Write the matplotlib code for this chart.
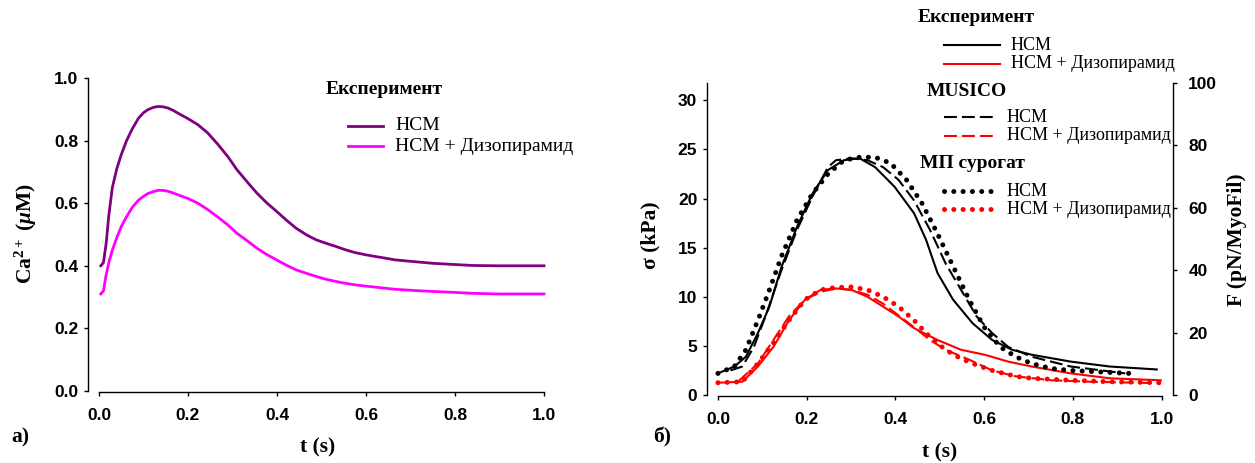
import numpy as np
import matplotlib
matplotlib.use("Agg")
import matplotlib.pyplot as plt
from matplotlib.lines import Line2D

plt.rcParams['font.family'] = ['Liberation Serif', 'DejaVu Serif']
plt.rcParams['mathtext.fontset'] = 'custom'
plt.rcParams['mathtext.rm'] = 'Liberation Serif:bold'
plt.rcParams['mathtext.bf'] = 'Liberation Serif:bold'
plt.rcParams['mathtext.it'] = 'Liberation Serif:italic:bold'

# --- panel a: Ca2+ transients ---
t_ca = [0.004, 0.01, 0.016, 0.022, 0.03, 0.04, 0.05, 0.062, 0.075, 0.089, 0.1, 0.11, 0.122,
        0.133, 0.144, 0.155, 0.166, 0.177, 0.2, 0.222, 0.244, 0.266, 0.29, 0.31, 0.333, 0.355,
        0.377, 0.399, 0.421, 0.443, 0.466, 0.488, 0.51, 0.532, 0.554, 0.576, 0.6, 0.62,
        0.645, 0.665, 0.71, 0.75, 0.8, 0.84, 0.9, 0.95, 1.0]
ca_hcm = [0.40, 0.41, 0.47, 0.56, 0.65, 0.71, 0.755, 0.80, 0.838, 0.872, 0.889, 0.899, 0.906,
          0.909, 0.908, 0.904, 0.897, 0.888, 0.87, 0.851, 0.825, 0.79, 0.748, 0.707, 0.668, 0.632,
          0.601, 0.574, 0.546, 0.52, 0.499, 0.483, 0.472, 0.462, 0.451, 0.442, 0.435, 0.43,
          0.424, 0.419, 0.413, 0.408, 0.404, 0.401, 0.40, 0.40, 0.40]
ca_diso = [0.31, 0.32, 0.37, 0.41, 0.45, 0.49, 0.525, 0.557, 0.587, 0.61, 0.622, 0.631, 0.637,
           0.641, 0.641, 0.638, 0.633, 0.627, 0.615, 0.60, 0.58, 0.557, 0.53, 0.504, 0.48, 0.456,
           0.436, 0.419, 0.402, 0.387, 0.376, 0.366, 0.357, 0.35, 0.344, 0.339, 0.335, 0.332,
           0.328, 0.325, 0.321, 0.318, 0.315, 0.312, 0.31, 0.31, 0.31]

# --- panel b: tension, experiment / MUSICO / surrogate ---
t_exp = [0.0, 0.037, 0.063, 0.09, 0.116, 0.143, 0.178, 0.213, 0.248, 0.284, 0.319, 0.354,
         0.398, 0.442, 0.469, 0.495, 0.53, 0.574, 0.618, 0.663, 0.707, 0.795, 0.883, 0.989]
exp_hcm = [2.2, 2.9, 3.9, 6.3, 9.0, 13.0, 17.1, 20.5, 22.9, 23.9, 24.1, 23.2,
           21.2, 18.5, 15.8, 12.4, 9.7, 7.3, 5.6, 4.6, 4.1, 3.4, 2.9, 2.6]

t_exp_d = [0.0, 0.055, 0.09, 0.125, 0.16, 0.196, 0.231, 0.266, 0.301, 0.337, 0.372, 0.407,
           0.442, 0.495, 0.548, 0.601, 0.654, 0.707, 0.795, 0.883, 0.998]
exp_diso = [1.25, 1.35, 2.9, 4.9, 7.6, 9.7, 10.7, 10.85, 10.7, 10.0, 9.0, 8.0,
            6.8, 5.6, 4.6, 4.1, 3.4, 2.9, 2.2, 1.7, 1.5]

t_mus = [0.028, 0.055, 0.081, 0.107, 0.143, 0.178, 0.213, 0.248, 0.266, 0.301, 0.337,
         0.372, 0.407, 0.442, 0.478, 0.513, 0.548, 0.583, 0.618, 0.654, 0.707, 0.795,
         0.883, 0.918]
mus_hcm = [2.5, 2.9, 4.9, 8.0, 12.7, 16.8, 20.2, 23.2, 23.9, 24.1, 23.9,
           23.2, 21.9, 19.8, 16.8, 13.4, 10.7, 8.0, 6.3, 4.9, 3.9, 2.9,
           2.4, 2.2]

t_mus_d = [0.046, 0.09, 0.125, 0.16, 0.196, 0.231, 0.266, 0.301, 0.337, 0.372, 0.407,
           0.442, 0.478, 0.513, 0.566, 0.618, 0.671, 0.751, 0.839, 0.998]
mus_diso = [1.4, 3.2, 5.6, 8.0, 9.7, 10.5, 10.85, 10.7, 10.2, 9.3, 8.1,
            6.9, 5.6, 4.6, 3.6, 2.5, 1.9, 1.5, 1.35, 1.2]

t_sur = [0.0, 0.037, 0.063, 0.09, 0.116, 0.143, 0.178, 0.213, 0.248, 0.284, 0.319, 0.354,
         0.389, 0.425, 0.46, 0.495, 0.53, 0.566, 0.6, 0.636, 0.671, 0.707, 0.751, 0.795,
         0.883, 0.927]
sur_hcm = [2.2, 2.9, 4.6, 7.6, 10.7, 14.1, 17.8, 20.5, 22.5, 23.9, 24.2, 24.2,
           23.6, 21.9, 19.5, 16.4, 13.1, 9.7, 6.9, 4.9, 3.9, 3.2, 2.7, 2.5,
           2.3, 2.2]

t_sur_d = [0.0, 0.055, 0.09, 0.125, 0.16, 0.196, 0.231, 0.266, 0.301, 0.337, 0.372, 0.407,
           0.442, 0.478, 0.513, 0.548, 0.583, 0.618, 0.671, 0.707, 0.795, 0.883, 1.0]
sur_diso = [1.25, 1.35, 3.2, 5.3, 7.6, 9.7, 10.7, 10.95, 11.0, 10.7, 10.0, 9.0,
            7.6, 5.9, 4.6, 3.7, 3.05, 2.5, 1.9, 1.7, 1.5, 1.35, 1.25]

lbl_hcm = 'НСМ'
lbl_diso = 'НСМ + Дизопирамид'

tick_font = dict(family='Liberation Sans', weight='bold', size=12.5)
lab_font = dict(family='Liberation Serif', weight='bold', size=15.5)
dot = (0, (0.01, 1.85))

fig = plt.figure(figsize=(12.55, 4.63), dpi=100)
W, H = 1255, 463


def px_axes(x0, x1, ytop, ybot):
    return fig.add_axes([x0 / W, 1 - ybot / H, (x1 - x0) / W, (ybot - ytop) / H])


def style(ax, xmin, xmax):
    ax.set_xlim(xmin, xmax)
    ax.spines['top'].set_visible(False)
    ax.spines['right'].set_visible(False)
    ax.spines['bottom'].set_bounds(0, 1.0)
    ax.spines['bottom'].set_position(('outward', 1))
    ax.set_xticks(np.arange(0, 1.01, 0.2))
    ax.set_xticklabels(['%.1f' % v for v in np.arange(0, 1.01, 0.2)], fontdict=tick_font)
    ax.tick_params(direction='out', length=3, width=1, pad=8)
    for s in ax.spines.values():
        s.set_linewidth(1.0)


# panel a
ax1 = px_axes(88, 546, 78, 391)
ax1.plot(t_ca, ca_hcm, color='#800080', lw=2.0)
ax1.plot(t_ca, ca_diso, color='#ff00ff', lw=2.0)
style(ax1, -0.0247, 1.0045)
ax1.set_ylim(0, 1.0)
ax1.set_yticks(np.arange(0, 1.01, 0.2))
ax1.set_yticklabels(['%.1f' % v for v in np.arange(0, 1.01, 0.2)], fontdict=tick_font)
ax1.tick_params(axis='y', pad=4)
fig.text(318 / W, 1 - 447 / H, 't (s)', ha='center', va='center', **lab_font)
fig.text(26 / W, 1 - 234 / H, r'Ca$^{2+}$ ($\mu$M)', rotation=90, ha='center',
         va='center', **lab_font)
fig.text(20 / W, 1 - 437 / H, 'а)', ha='center', va='center', **lab_font)

# legend of panel a
fig.text(384 / W, 1 - 90 / H, 'Експеримент', ha='center', va='center',
         weight='bold', size=14)
for y, c, lab in [(126, '#800080', lbl_hcm), (146, '#ff00ff', lbl_diso)]:
    fig.add_artist(Line2D([348 / W, 383 / W], [1 - y / H] * 2, color=c, lw=2.0))
    fig.text(395 / W, 1 - y / H, lab, ha='left', va='center', size=14)

# panel b
ax2 = px_axes(707, 1173, 83, 395)
ax2.plot(t_exp, exp_hcm, color='black', lw=1.5)
ax2.plot(t_exp_d, exp_diso, color='red', lw=1.5)
ax2.plot(t_mus, mus_hcm, color='black', lw=1.5, dashes=(6.2, 2.4))
ax2.plot(t_mus_d, mus_diso, color='red', lw=1.5, dashes=(6.2, 2.4))
ax2.plot(t_sur, sur_hcm, color='black', lw=3.6, linestyle=dot, dash_capstyle='round')
ax2.plot(t_sur_d, sur_diso, color='red', lw=3.6, linestyle=dot, dash_capstyle='round')
style(ax2, -0.0247, 1.0256)
ax2.set_ylim(0, 31.76)
ax2.set_yticks(range(0, 31, 5))
ax2.set_yticklabels([str(v) for v in range(0, 31, 5)], fontdict=tick_font)
ax2.tick_params(axis='y', pad=4)

ax3 = ax2.twinx()
ax3.set_ylim(0, 100)
ax3.set_yticks(range(0, 101, 20))
ax3.set_yticklabels([str(v) for v in range(0, 101, 20)], fontdict=tick_font)
ax3.tick_params(direction='out', length=3, width=1, pad=8)
for s in ['top', 'left', 'bottom']:
    ax3.spines[s].set_visible(False)
ax3.spines['right'].set_linewidth(1.0)

fig.text(940 / W, 1 - 452 / H, 't (s)', ha='center', va='center', **lab_font)
fig.text(650 / W, 1 - 235 / H, 'σ (kPa)', rotation=90, ha='center', va='center', **lab_font)
fig.text(1237 / W, 1 - 240 / H, 'F (pN/MyoFil)', rotation=90, ha='center',
         va='center', **lab_font)
fig.text(662 / W, 1 - 437 / H, 'б)', ha='center', va='center', **lab_font)

# legend of panel b
groups = [
    ('Експеримент', 976, 17, dict(ls='-', lw=1.5), 45, 64, 1011),
    ('MUSICO', 967, 92, dict(lw=1.5, dashes=(6.2, 2.4)), 117, 136, 1007),
    ('МП сурогат', 972, 163, dict(lw=3.6, linestyle=dot, dash_capstyle='round'), 191, 209, 1007),
]
for title, xc, yt, kw, y1, y2, xt in groups:
    fig.text(xc / W, 1 - yt / H, title, ha='center', va='center', weight='bold', size=14)
    for y, c, lab in [(y1, 'black', lbl_hcm), (y2, 'red', lbl_diso)]:
        x1 = 1000 if kw.get('ls') == '-' else 997
        fig.add_artist(Line2D([944 / W, x1 / W], [1 - y / H] * 2, color=c, **kw))
        fig.text(xt / W, 1 - y / H, lab, ha='left', va='center', size=13)

fig.savefig('out.png', dpi=100)
